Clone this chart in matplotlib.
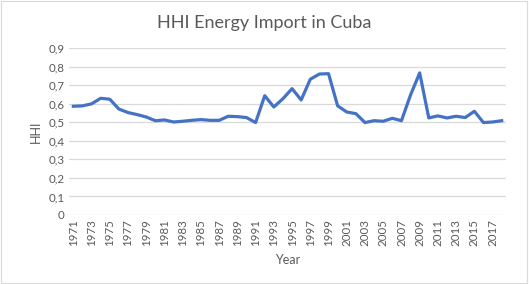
import numpy as np
import matplotlib
matplotlib.use("Agg")
import matplotlib.pyplot as plt
from matplotlib.ticker import FuncFormatter

years = list(range(1971, 2019))
hhi = [0.587, 0.589, 0.600, 0.630, 0.625, 0.572, 0.553, 0.542, 0.529, 0.509,
       0.513, 0.502, 0.506, 0.511, 0.515, 0.511, 0.511, 0.533, 0.531, 0.526,
       0.499, 0.644, 0.583, 0.628, 0.682, 0.621, 0.733, 0.761, 0.763, 0.589,
       0.556, 0.547, 0.499, 0.509, 0.506, 0.522, 0.509, 0.648, 0.767, 0.524,
       0.535, 0.524, 0.533, 0.526, 0.560, 0.499, 0.502, 0.509]
yticks = [0, 0.1, 0.2, 0.3, 0.4, 0.5, 0.6, 0.7, 0.8, 0.9]

plt.rcParams['font.family'] = ['Lato', 'DejaVu Sans']
grey = '#595959'

fig = plt.figure(figsize=(5.29, 2.84), dpi=100)
ax = fig.add_axes([0.130, 0.243, 0.827, 0.587])

x = np.arange(len(years))
ax.plot(x, hhi, color='#4472C4', linewidth=2.3, solid_joinstyle='round')

ax.set_xlim(-0.5, len(years) - 0.5)
ax.set_ylim(0, 0.9)
ax.set_yticks(yticks)
# comma as decimal separator, like the original
ax.yaxis.set_major_formatter(FuncFormatter(lambda v, p: '0' if v == 0 else f'{v:.1f}'.replace('.', ',')))
ax.set_xticks(x[::2])
ax.set_xticklabels([str(y) for y in years[::2]], rotation=90)

ax.grid(axis='y', color='#D9D9D9', linewidth=0.9)
ax.set_axisbelow(True)
for s in ax.spines.values():
    s.set_visible(False)
ax.tick_params(length=0, colors=grey, labelsize=8.3, pad=3)

ax.set_xlabel('Year', color=grey, fontsize=9, labelpad=6)
ax.set_ylabel('HHI', color=grey, fontsize=9, labelpad=5)
fig.suptitle('HHI Energy Import in Cuba', color=grey, fontsize=13, y=0.947)

# light frame around the chart
fig.patches.append(plt.Rectangle((0.002, 0.004), 0.995, 0.992, transform=fig.transFigure,
                                 fill=False, edgecolor='#D9D9D9', linewidth=0.8))

fig.savefig('out.png', dpi=100)
